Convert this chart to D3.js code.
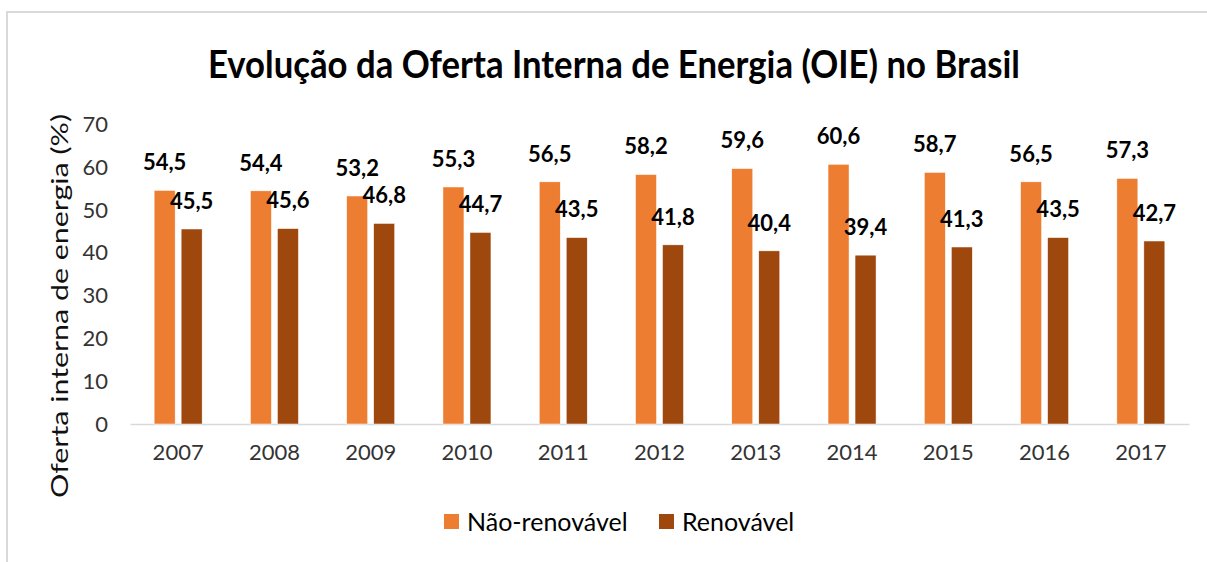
<!DOCTYPE html>
<html>
<head>
<meta charset="utf-8">
<script src="https://cdn.jsdelivr.net/npm/d3@7"></script>
<style>
  body { margin:0; background:#fff; }
  svg text { font-family: Lato, "Open Sans", sans-serif; }
</style>
</head>
<body>
<div id="chart"></div>
<script>
var years = ["2007","2008","2009","2010","2011","2012","2013","2014","2015","2016","2017"];
var naoRenovavel = [54.5,54.4,53.2,55.3,56.5,58.2,59.6,60.6,58.7,56.5,57.3];
var renovavel = [45.5,45.6,46.8,44.7,43.5,41.8,40.4,39.4,41.3,43.5,42.7];
var yTicks = [0,10,20,30,40,50,60,70];
var seriesNames = ["Não-renovável","Renovável"];
var colors = ["#ED7D31","#9E480E"];

var width = 1207, height = 562;
var svg = d3.select("#chart").append("svg")
  .attr("width", width).attr("height", height);

// outer chart border (only top and left visible)
svg.append("path")
  .attr("d", "M7,562 L7,12 L1207,12")
  .attr("fill", "none").attr("stroke", "#d9d9d9").attr("stroke-width", 2);

svg.append("text")
  .attr("x", 614).attr("y", 78)
  .attr("text-anchor", "middle")
  .attr("font-size", 38).attr("font-weight", "bold")
  .attr("textLength", 812).attr("lengthAdjust", "spacingAndGlyphs")
  .attr("fill", "#000")
  .text("Evolução da Oferta Interna de Energia (OIE) no Brasil");

var x = d3.scaleBand().domain(years).range([130, 1189]);
var y = d3.scaleLinear().domain([0, 70]).range([424, 124]);

var data = years.map(function(d, i){ return {year:d, vals:[naoRenovavel[i], renovavel[i]]}; });

// y tick labels
svg.append("g")
  .selectAll("text")
  .data(yTicks)
  .enter().append("text")
  .attr("x", 108)
  .attr("y", function(d){ return y(d); })
  .attr("dy", "0.36em")
  .attr("text-anchor", "end")
  .attr("font-size", 22)
  .attr("fill", "#333")
  .text(function(d){ return d; });

// x axis
var xAxis = svg.append("g")
  .attr("transform", "translate(0," + y(0) + ")")
  .call(d3.axisBottom(x).tickSize(0).tickPadding(20));
xAxis.select(".domain").attr("stroke", "#d9d9d9").attr("stroke-width", 1.5);
xAxis.selectAll("text")
  .attr("font-size", 22).attr("fill", "#333")
  .attr("font-family", "Lato, sans-serif");

// y axis title
svg.append("text")
  .attr("transform", "translate(68,306) rotate(-90)")
  .attr("text-anchor", "middle")
  .attr("font-size", 24)
  .attr("textLength", 384).attr("lengthAdjust", "spacingAndGlyphs")
  .attr("fill", "#111")
  .text("Oferta interna de energia (%)");

var barW = 21, gap = 6;
var offsets = [-(barW + gap/2), gap/2];

var groups = svg.selectAll(".grp")
  .data(data)
  .enter().append("g")
  .attr("class", "grp")
  .attr("transform", function(d){ return "translate(" + (x(d.year) + x.bandwidth()/2) + ",0)"; });

seriesNames.forEach(function(s, k){
  groups.append("rect")
    .attr("x", offsets[k])
    .attr("width", barW)
    .attr("y", function(d){ return y(d.vals[k]); })
    .attr("height", function(d){ return y(0) - y(d.vals[k]); })
    .attr("fill", colors[k])
    .attr("stroke", "#fff").attr("stroke-width", 0.5);

  groups.append("text")
    .attr("x", offsets[k] + barW/2)
    .attr("y", function(d){ return y(d.vals[k]) - 28; })
    .attr("dy", "0.36em")
    .attr("text-anchor", "middle")
    .attr("font-size", 22).attr("font-weight", "bold")
    .attr("fill", "#000")
    .text(function(d){ return d3.format(".1f")(d.vals[k]).replace(".", ","); });
});

// legend
var legendX = [444, 659];
var legend = svg.selectAll(".leg")
  .data(seriesNames)
  .enter().append("g")
  .attr("class", "leg")
  .attr("transform", function(d, i){ return "translate(" + legendX[i] + ",514)"; });
legend.append("rect")
  .attr("width", 15).attr("height", 15)
  .attr("fill", function(d, i){ return colors[i]; });
legend.append("text")
  .attr("x", 23).attr("y", 8)
  .attr("dy", "0.36em")
  .attr("font-size", 25)
  .attr("fill", "#000")
  .text(function(d){ return d; });
</script>
</body>
</html>
